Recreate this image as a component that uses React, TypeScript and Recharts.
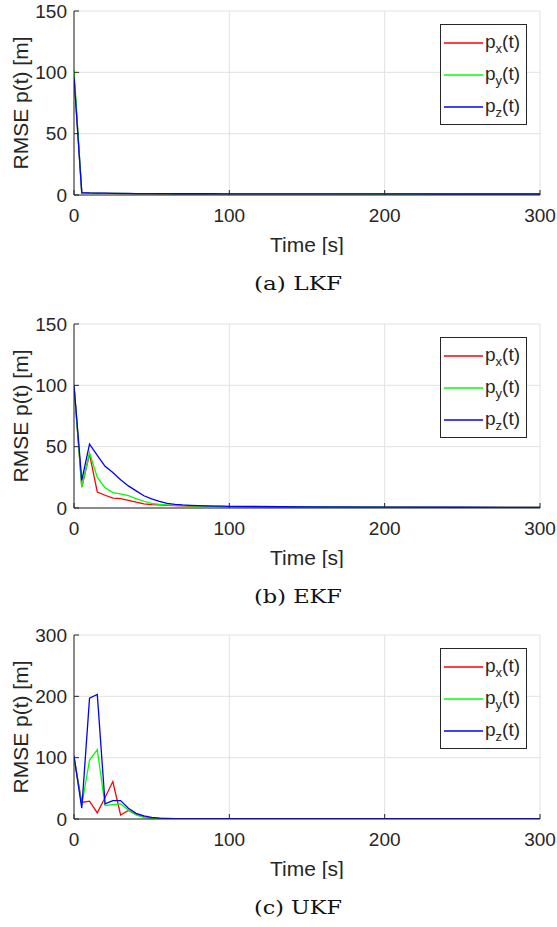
import React from 'react';
import { LineChart, Line, XAxis, YAxis, CartesianGrid, Legend, Label } from 'recharts';

// time samples [s]
const time = [0, 5, 10, 15, 20, 25, 30, 35, 40, 45, 50, 55, 60, 65, 70, 75, 80, 85, 90, 95, 100, 150, 200, 250, 300];

const xTicks = [0, 100, 200, 300];
const yTicksAB = [0, 50, 100, 150];
const yTicksC = [0, 100, 200, 300];

// (a) LKF
const lkfPx = [98, 1.6, 1.5, 1.4, 1.3, 1.3, 1.2, 1.2, 1.1, 1.1, 1.1, 1.0, 1.0, 1.0, 1.0, 1.0, 1.0, 0.9, 0.9, 0.9, 0.9, 0.9, 0.8, 0.8, 0.8];
const lkfPy = [102, 1.8, 1.6, 1.5, 1.4, 1.3, 1.3, 1.2, 1.2, 1.1, 1.1, 1.1, 1.0, 1.0, 1.0, 1.0, 1.0, 1.0, 0.9, 0.9, 0.9, 0.9, 0.8, 0.8, 0.8];
const lkfPz = [96, 2.0, 1.7, 1.6, 1.5, 1.4, 1.3, 1.3, 1.2, 1.2, 1.1, 1.1, 1.1, 1.0, 1.0, 1.0, 1.0, 1.0, 1.0, 0.9, 0.9, 0.9, 0.9, 0.8, 0.8];

// (b) EKF
const ekfPx = [100, 17, 44, 13, 10.4, 8, 7.7, 6.3, 4.7, 3.3, 2.7, 2.5, 2.2, 2.0, 1.8, 1.6, 1.5, 1.4, 1.3, 1.2, 1.1, 0.7, 0.6, 0.5, 0.5];
const ekfPy = [100, 17, 45, 25, 16.5, 12.6, 11.5, 10, 7.7, 5.5, 3.8, 3.0, 2.5, 2.2, 2.0, 1.8, 1.6, 1.5, 1.4, 1.3, 1.2, 0.8, 0.6, 0.5, 0.5];
const ekfPz = [100, 22.5, 52, 43, 34, 29, 23, 18, 14, 10, 7.4, 5.5, 3.8, 3.0, 2.5, 2.2, 2.0, 1.8, 1.6, 1.5, 1.4, 0.9, 0.7, 0.6, 0.5];

// (c) UKF
const ukfPx = [100, 27, 29, 10, 35, 61, 6.6, 14, 7.6, 3.3, 1.0, 0.8, 0.6, 0.5, 0.5, 0.5, 0.5, 0.5, 0.5, 0.5, 0.5, 0.5, 0.5, 0.5, 0.5];
const ukfPy = [100, 23, 96, 113, 22, 23.5, 24.6, 14.8, 6.6, 2.7, 1.0, 0.6, 0.5, 0.5, 0.5, 0.5, 0.5, 0.5, 0.5, 0.5, 0.5, 0.5, 0.5, 0.5, 0.5];
const ukfPz = [103, 17.5, 197, 203, 24.6, 30, 30, 17.5, 9.3, 5, 2.7, 1.5, 1.0, 0.7, 0.5, 0.5, 0.5, 0.5, 0.5, 0.5, 0.5, 0.5, 0.5, 0.5, 0.5];

const seriesKeys = ['px', 'py', 'pz'];
const seriesSubs = ['x', 'y', 'z'];
const seriesColors = ['#ff0000', '#00ff00', '#0000ff'];
const captions = ['(a) LKF', '(b) EKF', '(c) UKF'];

const SANS = '"Liberation Sans", Arial, Helvetica, sans-serif';
const SERIF = '"DejaVu Serif", "Liberation Serif", serif';
const AX = '#262626';

const YLabel = (props: any) => {
  const vb = props.viewBox || { y: 11, height: 184 };
  const cy = vb.y + vb.height / 2;
  return (
    <text x={28} y={cy} transform={`rotate(-90, 28, ${cy})`} textAnchor="middle"
      fontFamily={SANS} fontSize={21} fill={AX}>RMSE p(t) [m]</text>
  );
};

const LegendBox = (props: any) => {
  const payload = (props.payload || []) as any[];
  return (
    <svg width={87} height={101} style={{ display: 'block' }}>
      <rect x={0.5} y={0.5} width={86} height={100} fill="#ffffff" stroke={AX} strokeWidth={1} />
      {payload.map((p, i) => {
        const yy = 19 + i * 32;
        return (
          <g key={i}>
            <line x1={4} x2={43} y1={yy} y2={yy} stroke={p.color} strokeWidth={1.3} />
            <text x={45} y={yy + 5} fontFamily={SANS} fontSize={19} fill={AX}>
              p<tspan dy={5} fontSize={13}>{seriesSubs[i]}</tspan><tspan dy={-5} fontSize={19}>(t)</tspan>
            </text>
          </g>
        );
      })}
    </svg>
  );
};

const EmptyTick = () => <g />;

function Panel(props: { top: number; px: number[]; py: number[]; pz: number[]; yMax: number; yTicks: number[]; caption: string }) {
  const { top, px, py, pz, yMax, yTicks, caption } = props;
  const data = time.map((t, i) => ({ t, px: px[i], py: py[i], pz: pz[i] }));
  return (
    <div style={{ position: 'absolute', left: 0, top, width: 557, height: 300 }}>
      <LineChart width={557} height={255} data={data} margin={{ top: 11, right: 17, bottom: 0, left: 0 }}>
        <CartesianGrid stroke="#e2e2e2" strokeWidth={1} />
        <XAxis dataKey="t" type="number" domain={[0, 300]} ticks={xTicks} interval={0} height={60}
          allowDataOverflow tickSize={-5} tickMargin={19}
          axisLine={{ stroke: AX, strokeWidth: 1 }} tickLine={{ stroke: AX }}
          tick={{ fontSize: 19, fill: AX, fontFamily: SANS }}>
          <Label value="Time [s]" position="insideBottom" offset={3} fill={AX} fontSize={21} fontFamily={SANS} />
        </XAxis>
        <XAxis xAxisId="top" orientation="top" type="number" domain={[0, 300]} ticks={xTicks} interval={0}
          height={0} allowDataOverflow tickSize={-5} axisLine={{ stroke: AX, strokeWidth: 1 }} tickLine={{ stroke: AX }}
          tick={EmptyTick} />
        <YAxis type="number" domain={[0, yMax]} ticks={yTicks} interval={0} width={74} allowDataOverflow
          tickSize={-5} tickMargin={12} axisLine={{ stroke: AX, strokeWidth: 1 }} tickLine={{ stroke: AX }}
          tick={{ fontSize: 19, fill: AX, fontFamily: SANS }} label={{ content: YLabel }} />
        <YAxis yAxisId="right" orientation="right" type="number" domain={[0, yMax]} ticks={yTicks} interval={0}
          width={0} allowDataOverflow tickSize={-5} axisLine={{ stroke: AX, strokeWidth: 1 }} tickLine={{ stroke: AX }}
          tick={EmptyTick} />
        <Legend content={LegendBox} layout="vertical" align="center" verticalAlign="middle"
          wrapperStyle={{ left: 440, top: 24, width: 87, height: 101 }} />
        {seriesKeys.map((k, i) => (
          <Line key={k} dataKey={k} name={k} type="linear" stroke={seriesColors[i]} strokeWidth={1.3}
            dot={false} activeDot={false} isAnimationActive={false} />
        ))}
      </LineChart>
      <svg style={{ position: 'absolute', left: 0, top: 255 }} width={557} height={45}>
        <text x={254} y={35} fontFamily={SERIF} fontSize={19} fontWeight={400} fill="#111" textLength={88} lengthAdjust="spacingAndGlyphs">{caption}</text>
      </svg>
    </div>
  );
}

export default function App() {
  return (
    <div style={{ position: 'absolute', left: 0, top: 0, width: 557, height: 927, background: '#fff' }}>
      <Panel top={0} px={lkfPx} py={lkfPy} pz={lkfPz} yMax={150} yTicks={yTicksAB} caption={captions[0]} />
      <Panel top={313} px={ekfPx} py={ekfPy} pz={ekfPz} yMax={150} yTicks={yTicksAB} caption={captions[1]} />
      <Panel top={624} px={ukfPx} py={ukfPy} pz={ukfPz} yMax={300} yTicks={yTicksC} caption={captions[2]} />
    </div>
  );
}
